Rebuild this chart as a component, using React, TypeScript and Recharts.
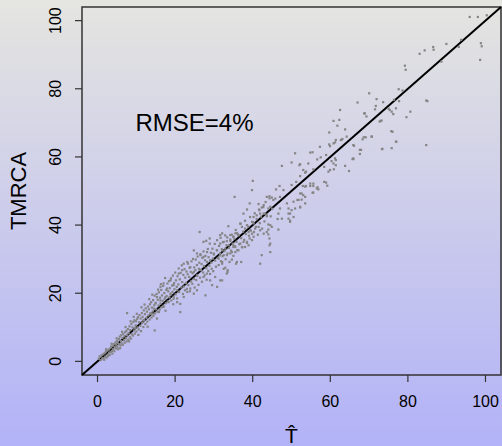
import {
    ScatterChart,
    Scatter,
    XAxis,
    YAxis,
    ReferenceLine,
    ReferenceArea,
    ReferenceDot,
} from "recharts";

// estimated T-hat (x) vs TMRCA (y)
const lowCloud: [number, number][] = [
    [0.3, 0.8], [0.5, 1.5], [0.8, 0.4], [1.0, 1.8], [1.2, 0.9], [1.4, 2.1], [1.5, 1.0], [1.7, 0.5],
    [1.8, 2.4], [2.0, 1.4], [2.1, 2.9], [2.3, 1.1], [2.4, 3.2], [2.6, 2.0], [2.7, 1.6], [2.9, 3.5],
    [3.0, 2.6], [3.1, 1.9], [3.3, 3.9], [3.4, 2.8], [3.5, 4.4], [3.7, 3.1], [3.8, 2.3], [3.9, 4.6],
    [4.0, 3.6], [4.2, 5.1], [4.3, 3.0], [4.4, 4.2], [4.6, 5.6], [4.7, 3.8], [4.8, 4.9], [5.0, 6.1],
    [5.1, 4.3], [5.2, 5.4], [5.3, 3.6], [5.5, 6.6], [5.6, 5.0], [5.7, 7.3], [5.9, 4.7], [6.0, 6.0],
    [6.1, 7.7], [6.2, 5.3], [6.4, 6.9], [6.5, 4.9], [6.6, 8.1], [6.8, 6.2], [6.9, 7.4], [7.0, 5.5],
    [7.1, 8.6], [7.3, 6.8], [7.4, 9.0], [7.5, 5.9], [7.6, 7.7], [7.8, 9.5], [7.9, 6.4], [8.0, 8.3],
    [8.2, 10.3], [8.3, 7.1], [8.4, 9.2], [8.6, 6.7], [8.7, 11.0], [8.8, 8.0], [9.0, 10.0], [9.1, 7.6],
    [9.2, 11.6], [9.4, 9.1], [9.5, 12.1], [9.6, 8.2], [9.8, 10.6], [9.9, 11.8], [10.0, 8.8], [10.2, 12.5],
    [10.3, 10.0], [10.4, 13.0], [10.6, 9.4], [10.7, 11.5], [10.8, 13.6], [11.0, 10.5], [11.1, 12.6], [11.2, 8.9],
    [11.4, 14.2], [11.5, 11.3], [11.6, 13.1], [11.8, 10.1], [11.9, 15.0], [12.0, 12.2], [12.2, 13.9], [12.3, 11.0],
    [12.4, 15.6], [12.6, 12.8], [12.7, 14.6], [12.8, 11.7], [13.0, 16.1], [13.1, 13.5], [13.2, 15.3], [13.4, 12.3],
    [13.5, 16.8], [13.6, 14.2], [13.8, 17.4], [13.9, 12.9], [14.0, 15.8], [14.2, 14.7], [14.3, 18.0], [14.4, 13.4],
    [14.6, 16.5], [14.7, 19.3], [14.8, 14.1], [15.0, 17.2], [15.1, 15.3], [15.2, 19.8], [15.4, 14.6], [15.5, 18.1],
    [15.7, 16.4], [15.8, 20.3], [16.0, 15.2], [16.1, 18.7], [16.2, 17.0], [16.4, 21.0], [16.5, 15.9], [16.6, 19.4],
    [16.8, 17.8], [16.9, 22.2], [17.0, 16.3], [17.2, 20.1], [17.3, 18.4], [17.4, 24.5], [17.6, 17.1], [17.7, 21.0],
    [17.8, 19.2], [18.0, 22.9], [18.1, 17.6], [18.2, 20.6], [18.4, 23.6], [18.5, 18.8], [18.6, 21.5], [18.8, 19.6],
    [18.9, 24.4], [19.0, 17.9], [19.2, 22.3], [19.3, 20.4], [19.4, 25.2], [19.6, 19.0], [19.7, 23.0], [19.8, 21.2],
    [20.0, 26.1], [20.1, 19.7], [20.2, 23.8], [20.4, 21.9], [20.5, 18.5], [20.6, 25.0], [20.8, 22.6], [20.9, 27.3],
    [21.0, 20.4], [21.2, 24.1], [21.3, 16.9], [21.4, 26.0], [21.6, 21.7], [21.7, 28.2], [21.8, 23.3], [22.0, 19.8],
    [22.1, 25.4], [22.2, 22.0], [22.4, 27.1], [22.5, 20.9], [22.6, 24.6], [22.8, 23.0], [22.9, 26.4], [23.0, 21.3],
    [23.2, 25.6], [23.3, 28.7], [23.4, 22.4], [23.6, 24.8], [23.7, 27.5], [23.8, 20.6], [24.0, 26.3], [24.1, 23.5],
    [24.2, 29.4], [24.4, 22.8], [24.5, 25.9], [24.6, 30.1], [24.8, 24.2], [24.9, 27.6], [25.0, 21.7], [25.2, 26.8],
    [25.3, 29.9], [25.4, 23.9], [25.6, 28.3], [25.7, 25.1], [25.8, 30.8], [26.0, 22.5], [26.1, 27.2], [26.2, 29.0],
    [26.4, 24.6], [26.5, 31.5], [26.6, 26.9], [26.8, 28.6], [26.9, 23.4], [27.0, 30.4], [27.2, 26.1], [27.3, 32.3],
    [27.4, 28.0], [27.6, 25.3], [27.7, 29.7], [27.8, 31.0], [28.0, 27.4], [28.1, 24.0], [28.2, 29.2], [28.4, 33.0],
    [28.5, 26.6], [28.6, 30.6], [28.8, 28.1], [28.9, 34.6], [29.0, 25.7], [29.2, 31.9], [29.3, 29.0], [29.4, 27.2],
    [29.6, 33.1], [29.7, 30.2], [29.8, 26.5], [30.0, 31.4], [30.2, 34.5], [30.3, 29.6], [30.5, 27.8], [30.7, 32.7],
    [30.8, 35.6], [31.0, 30.4], [31.2, 28.3], [31.3, 33.9], [31.5, 31.1], [31.7, 36.3], [31.8, 29.4], [32.0, 33.0],
    [32.2, 30.9], [32.3, 35.0], [32.5, 27.2], [32.7, 32.4], [32.9, 37.0], [33.0, 30.0], [33.2, 34.1], [33.4, 36.4],
    [33.5, 31.7], [33.7, 39.7], [33.9, 33.3], [34.0, 29.2], [34.2, 35.4], [34.4, 32.5], [34.6, 37.2], [34.8, 34.6],
    [35.0, 31.0], [35.2, 36.0], [35.4, 33.8], [35.6, 38.6], [35.8, 35.1], [36.0, 32.7], [36.3, 37.0], [36.5, 34.4],
    [36.8, 40.4], [37.0, 36.2], [37.3, 33.5], [37.5, 38.1], [37.8, 35.7], [38.0, 41.3], [38.2, 37.4], [38.5, 34.8],
    [38.8, 39.6], [39.0, 36.9], [39.3, 42.4], [39.5, 38.4], [39.8, 35.6], [40.0, 40.9], [40.3, 38.0], [40.5, 43.5],
    [40.8, 39.5], [41.0, 41.8], [41.3, 37.2], [41.6, 44.6], [41.8, 40.6], [42.1, 42.5], [42.4, 39.0], [42.7, 45.3],
    [43.0, 41.1], [43.3, 46.8], [43.6, 43.0], [44.0, 40.2], [44.3, 47.9], [44.6, 42.6], [45.0, 44.8],
    [7.6, 14.2], [14.7, 9.1], [21.3, 14.5], [26.3, 38.0], [27.8, 19.4],
    [2.2, 3.6], [3.6, 5.2], [4.9, 6.8], [6.3, 8.7], [7.2, 10.1], [8.5, 11.8], [9.3, 13.1], [10.1, 14.0],
    [11.3, 15.9], [12.1, 16.7], [13.3, 18.3], [14.1, 19.6], [15.6, 21.1], [16.3, 22.7], [5.8, 3.9], [8.1, 5.9],
    [10.5, 7.8], [12.9, 10.2], [15.3, 12.6], [17.5, 14.9], [19.5, 16.8], [9.7, 9.8], [11.7, 12.0], [13.7, 13.9],
];

const midCloud: [number, number][] = [
    [27.3, 35.1], [28.0, 35.4], [28.9, 36.1], [31.6, 37.1], [32.1, 37.6], [34.2, 37.1], [35.0, 36.6], [36.1, 37.4],
    [35.0, 34.1], [35.5, 33.6], [36.3, 32.6], [34.2, 31.7], [33.3, 31.2], [35.7, 28.7], [33.5, 26.3], [32.1, 23.8],
    [24.8, 32.6], [25.6, 31.7], [26.5, 31.2], [27.3, 30.7], [28.2, 32.1], [29.0, 29.7], [29.9, 31.7], [30.8, 32.6],
    [31.2, 30.2], [32.1, 29.2], [22.2, 28.7], [23.1, 29.2], [23.9, 27.7], [21.8, 26.8], [20.9, 25.8], [24.8, 26.3],
    [25.6, 25.3], [26.5, 26.8], [27.3, 24.8], [28.2, 25.8], [29.0, 23.8], [29.5, 22.4], [30.3, 24.8], [30.8, 21.9],
    [16.2, 21.9], [17.0, 22.9], [17.9, 21.4], [18.8, 23.8], [19.6, 22.4], [20.5, 20.9], [18.8, 19.9], [17.5, 18.9],
    [16.2, 17.9], [14.9, 17.0], [15.3, 18.9], [14.5, 15.5], [14.1, 14.0], [15.8, 14.5], [17.0, 16.0], [18.3, 17.4],
    [19.6, 18.4], [20.5, 17.4], [22.2, 18.9], [23.1, 20.4], [23.9, 21.4], [24.8, 19.9], [25.6, 20.9],
    [40.0, 53.0], [35.3, 48.3], [39.8, 50.3], [46.0, 50.5], [46.9, 51.5], [47.9, 50.3], [44.3, 48.5], [44.9, 48.1],
    [45.8, 47.8], [47.0, 48.3], [48.8, 46.4], [39.2, 46.4], [42.8, 45.9], [42.3, 45.2], [41.5, 46.2], [44.0, 44.9],
    [44.5, 45.4], [41.7, 44.4], [41.9, 43.4], [43.2, 43.4], [43.6, 42.6], [38.5, 44.6], [41.0, 42.9], [37.6, 43.4],
    [40.2, 42.4], [47.0, 44.9], [46.6, 43.4], [47.5, 41.9], [49.6, 43.4], [49.2, 41.9], [49.6, 41.0], [46.4, 41.8],
    [46.6, 38.7], [50.5, 42.4], [50.0, 44.4], [49.2, 44.9], [44.5, 40.0], [44.9, 39.5], [44.0, 38.7], [39.8, 41.0],
    [40.2, 40.5], [40.6, 39.0], [41.5, 39.5], [41.9, 38.5], [42.8, 37.5], [43.6, 38.0], [44.0, 37.3], [44.3, 36.1],
    [44.5, 34.6], [36.8, 40.5], [37.2, 39.5], [38.0, 39.0], [38.5, 40.0], [35.9, 37.7], [36.3, 37.1], [35.5, 37.6],
    [35.0, 36.6], [34.2, 35.8], [33.3, 35.3], [32.5, 35.1], [31.6, 34.6], [38.9, 38.0], [39.3, 38.5], [39.8, 37.5],
    [40.2, 36.6], [39.2, 36.1], [38.5, 35.1], [37.6, 35.1], [36.8, 34.6], [37.2, 33.6], [38.0, 33.6], [38.9, 34.1],
    [35.0, 33.6], [33.8, 34.1], [32.9, 33.1], [32.1, 32.6], [34.6, 32.1], [35.5, 32.1], [31.6, 31.7], [32.5, 31.2],
    [32.1, 28.7], [32.9, 27.5], [33.5, 26.8], [33.3, 25.8], [35.9, 29.2], [37.0, 29.2], [34.6, 29.9], [42.3, 31.2],
    [41.9, 28.7], [31.6, 23.8], [44.5, 32.1], [44.3, 34.1], [42.8, 43.4], [45.3, 47.4], [43.6, 48.3],
];

const upperCloud: [number, number][] = [
    [62.5, 73.8], [68.7, 72.8], [60.8, 70.6], [62.3, 70.9], [61.8, 69.2], [69.3, 71.9], [59.7, 67.2], [63.8, 68.1],
    [61.2, 64.3], [60.8, 64.0], [61.4, 65.0], [62.7, 65.0], [63.1, 65.3], [59.7, 63.7], [69.1, 65.8], [68.3, 65.2],
    [70.7, 66.0], [66.1, 63.3], [57.3, 63.0], [67.9, 62.1], [54.8, 61.3], [55.4, 61.4], [59.9, 63.2], [58.9, 60.6],
    [67.6, 60.9], [65.9, 59.4], [54.3, 58.1], [56.6, 59.3], [57.5, 59.9], [60.3, 58.8], [61.2, 59.6], [61.4, 59.1],
    [60.8, 58.1], [52.2, 57.9], [58.4, 57.1], [61.4, 57.6], [59.9, 56.2], [59.5, 55.7], [60.9, 56.4], [64.8, 55.9],
    [63.8, 57.4], [65.7, 59.4], [53.0, 56.2], [53.7, 55.7], [53.5, 55.4], [55.6, 56.4], [52.2, 54.4], [58.4, 52.7],
    [59.2, 51.6], [54.8, 52.2], [55.6, 51.5], [56.7, 51.1], [56.9, 50.5], [53.5, 51.3], [55.6, 49.6], [52.6, 49.3],
    [53.5, 48.3], [52.6, 47.5], [52.2, 45.2], [50.0, 51.8], [51.2, 52.7], [52.9, 51.5], [53.7, 51.5], [54.8, 51.5],
    [55.6, 52.2], [56.5, 50.8], [55.4, 49.5], [52.2, 49.3], [53.0, 48.8], [50.5, 46.9], [51.5, 47.4], [52.2, 45.4],
    [53.5, 46.4], [50.9, 61.1], [50.0, 58.4], [52.0, 57.6], [47.5, 57.4], [51.8, 47.4], [50.9, 44.9], [49.2, 43.4],
    [49.6, 41.3], [65.9, 63.5], [65.9, 59.6], [62.8, 65.0], [64.2, 66.0], [58.9, 52.5],
];

const topCloud: [number, number][] = [
    [95.9, 101.1], [98.0, 101.1], [100.3, 101.6], [98.8, 93.4], [99.0, 92.5], [98.6, 88.5], [93.7, 94.4], [93.1, 92.3],
    [89.9, 93.2], [86.5, 92.3], [86.6, 91.5], [84.3, 91.3], [83.0, 90.3], [88.6, 88.0], [79.2, 86.8], [79.4, 85.6],
    [84.7, 76.6], [85.0, 76.4], [84.7, 63.5], [77.6, 79.9], [78.6, 79.5], [76.4, 76.8], [77.7, 76.4], [75.0, 74.2],
    [76.9, 74.3], [75.8, 73.3], [76.2, 72.6], [79.6, 71.7], [80.6, 73.3], [75.7, 67.6], [77.0, 64.5], [75.8, 62.6],
    [73.4, 62.4], [70.0, 78.7], [71.9, 77.0], [73.6, 76.1], [67.0, 76.0], [68.9, 72.8], [71.5, 74.0], [71.7, 75.0],
    [72.7, 70.4], [73.2, 70.7], [72.9, 70.6], [70.6, 66.0], [68.6, 65.8], [67.6, 62.1], [76.0, 67.4], [76.9, 64.5],
    [73.3, 62.3], [75.3, 73.8],
];

const tickValues = [0, 20, 40, 60, 80, 100];

const points = [...lowCloud, ...midCloud, ...upperCloud, ...topCloud].map(([t, tmrca]) => ({ t, tmrca }));

const font = "'Liberation Sans', Arial, Helvetica, sans-serif";

function Dot(props: any) {
    const { cx, cy } = props;
    return <rect x={cx - 1} y={cy - 1} width={2.2} height={2.2} fill="#858585" />;
}

function YTick(props: any) {
    const { x, y, payload } = props;
    return (
        <text x={x} y={y} transform={`rotate(-90, ${x}, ${y})`} textAnchor="middle" fontSize={16} fill="#000" fontFamily={font}>
            {payload.value}
        </text>
    );
}

function XLabel(props: any) {
    const { viewBox } = props;
    const cx = viewBox.x + viewBox.width / 2;
    return (
        <text x={cx} y={viewBox.y + 68} textAnchor="middle" fontSize={21} fill="#000" fontFamily={font}>
            {"T\u0302"}
        </text>
    );
}

function YLabel(props: any) {
    const { viewBox } = props;
    const x = 26;
    const y = viewBox.y + viewBox.height / 2;
    return (
        <text x={x} y={y} transform={`rotate(-90, ${x}, ${y})`} textAnchor="middle" fontSize={22} fill="#000" fontFamily={font}>
            TMRCA
        </text>
    );
}

export default function App() {
    return (
        <div
            style={{
                position: "absolute",
                top: 0,
                left: 0,
                width: 502,
                height: 446,
                background: "linear-gradient(to bottom, #e5e5e0 0%, #cbcbec 50%, #b2b2f8 100%)",
            }}
        >
            <ScatterChart width={502} height={446} margin={{ top: 7, right: 1, left: 0, bottom: 0 }}>
                <XAxis
                    type="number"
                    dataKey="t"
                    domain={[-4, 104]}
                    ticks={tickValues}
                    allowDataOverflow
                    height={71}
                    axisLine={false}
                    tickLine={{ stroke: "#333", strokeWidth: 1.2 }}
                    tickSize={7}
                    tickMargin={14}
                    tick={{ fontSize: 16, fill: "#000", fontFamily: font }}
                    label={<XLabel />}
                />
                <YAxis
                    type="number"
                    dataKey="tmrca"
                    domain={[-4, 104]}
                    ticks={tickValues}
                    allowDataOverflow
                    width={82}
                    axisLine={false}
                    tickLine={{ stroke: "#333", strokeWidth: 1.2 }}
                    tickSize={7}
                    tickMargin={14}
                    tick={<YTick />}
                    label={<YLabel />}
                />
                <Scatter data={points} shape={<Dot />} isAnimationActive={false} />
                <ReferenceLine
                    segment={[{ x: -4, y: -4 }, { x: 104, y: 104 }]}
                    stroke="#000"
                    strokeWidth={2}
                />
                <ReferenceArea x1={-4} x2={104} y1={-4} y2={104} fill="none" stroke="#333" strokeWidth={1.5} />
                <ReferenceDot
                    x={25}
                    y={70}
                    r={0}
                    fill="none"
                    stroke="none"
                    label={{ value: "RMSE=4%", position: "center", fontSize: 24, fill: "#000", fontFamily: font }}
                />
            </ScatterChart>
        </div>
    );
}
